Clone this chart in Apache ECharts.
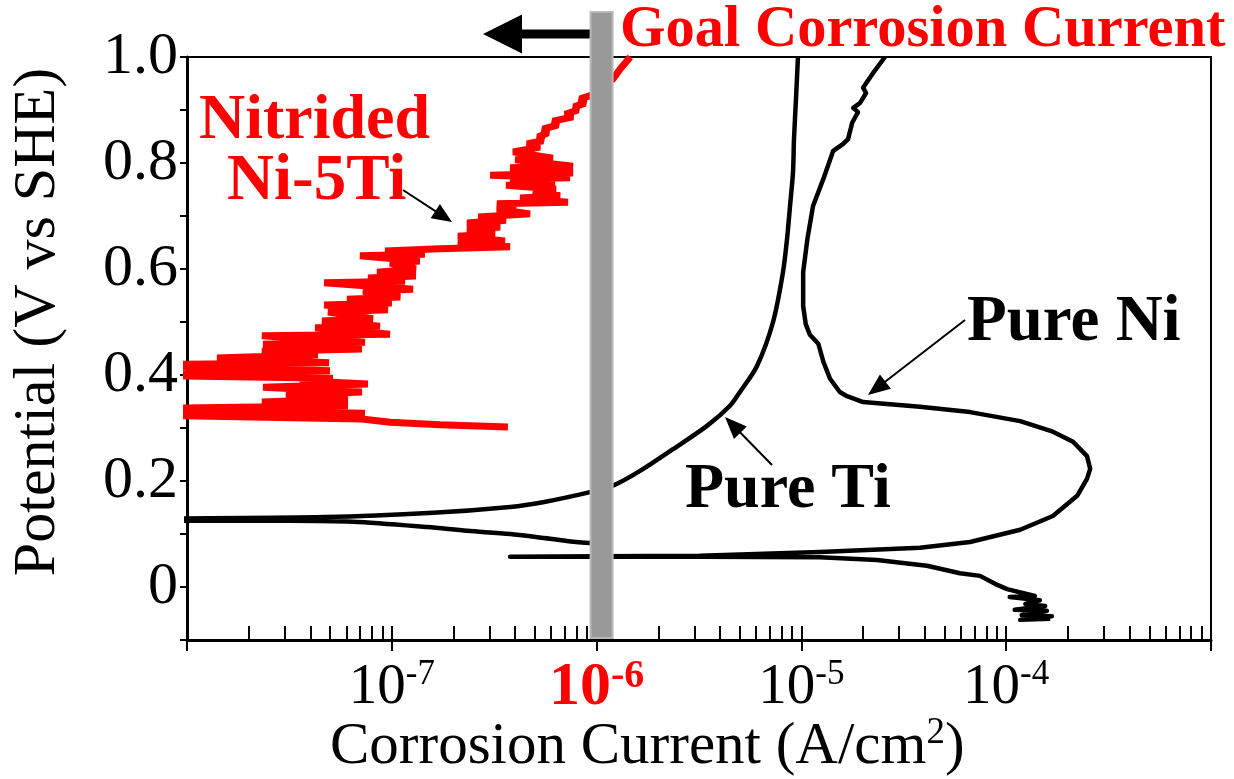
<!DOCTYPE html>
<html><head><meta charset="utf-8">
<script src="https://cdn.jsdelivr.net/npm/echarts@6/dist/echarts.min.js"></script>
<style>html,body{margin:0;padding:0;background:#fff}#c{width:1234px;height:779px}</style>
</head><body><div id="c"></div>
<script>
const FONT = '"Liberation Serif", "Times New Roman", serif';

// X axis: corrosion current (A/cm2), log scale; Y axis: potential (V vs SHE)
const xMin = 1e-8, xMax = 1e-3;
const yMin = -0.1, yMax = 1.0, yStep = 0.1;
const goalCurrent = 1e-6;

// Nitrided Ni-5Ti (red)
const redCurrent = [3.69e-7,1.72e-7,9.80e-8,7.15e-8,5e-9,7.40e-8,5e-9,6.11e-8,2.32e-8,6.11e-8,
  3.04e-8,7.15e-8,2.35e-8,7.65e-8,3.56e-8,5.16e-8,5e-9,4.99e-8,5e-9,4.94e-8,
  1.40e-8,4.36e-8,2.32e-8,7.15e-8,2.35e-8,7.40e-8,2.32e-8,9.80e-8,4.22e-8,8.76e-8,
  4.56e-8,8.09e-8,4.88e-8,9.58e-8,4.67e-8,1.00e-7,6.04e-8,1.10e-7,7.23e-8,1.27e-7,
  4.67e-8,1.16e-7,7.65e-8,1.31e-7,8.47e-8,1.31e-7,9.80e-8,1.37e-7,6.99e-8,1.45e-7,
  9.27e-8,1.72e-7,3.78e-7,2.10e-7,3.57e-7,2.10e-7,3.19e-7,2.33e-7,3.38e-7,2.33e-7,
  3.61e-7,2.64e-7,4.73e-7,3.26e-7,4.04e-7,3.26e-7,7.25e-7,4.23e-7,6.63e-7,4.89e-7,
  6.34e-7,3.61e-7,6.26e-7,3.78e-7,7.42e-7,3.02e-7,7.67e-7,3.78e-7,7.67e-7,4.00e-7,
  6.12e-7,3.91e-7,5.29e-7,4.57e-7,5.47e-7,5.18e-7,5.79e-7,5.47e-7,6.48e-7,6.12e-7,
  7.67e-7,7.01e-7,8.11e-7,7.76e-7,8.78e-7,8.30e-7,9.50e-7,9.82e-7,1.20e-6,1.30e-6,1.46e-6];
const redPotential = [0.302,0.306,0.311,0.317,0.325,0.328,0.336,0.342,0.349,0.355,
  0.362,0.368,0.377,0.383,0.389,0.394,0.400,0.408,0.419,0.423,
  0.432,0.438,0.445,0.449,0.458,0.462,0.474,0.477,0.489,0.492,
  0.502,0.506,0.519,0.523,0.532,0.536,0.543,0.547,0.558,0.562,
  0.574,0.577,0.583,0.587,0.594,0.600,0.611,0.615,0.625,0.628,
  0.634,0.638,0.642,0.649,0.653,0.662,0.666,0.674,0.679,0.687,
  0.692,0.698,0.704,0.713,0.719,0.723,0.726,0.734,0.738,0.747,
  0.751,0.758,0.762,0.770,0.772,0.777,0.781,0.791,0.794,0.806,
  0.809,0.821,0.830,0.836,0.842,0.849,0.857,0.864,0.872,0.879,
  0.887,0.892,0.900,0.906,0.913,0.921,0.928,0.938,0.958,0.977,1.0];

// Pure Ti
const tiCurrent = [1.20e-6,9.29e-7,5.92e-7,3.78e-7,2.33e-7,1.49e-7,6.46e-8,3.18e-8,3e-9,3e-9,
  4.72e-8,1.59e-7,3.78e-7,5.47e-7,9.29e-7,1.20e-6,1.63e-6,2.36e-6,3.46e-6,4.48e-6,
  5.01e-6,6.07e-6,7.27e-6,8.13e-6,8.51e-6,8.80e-6,9.10e-6,9.20e-6,9.41e-6,9.62e-6];
const tiPotential = [0.083,0.083,0.091,0.100,0.106,0.113,0.123,0.125,0.125,0.127,
  0.132,0.140,0.151,0.160,0.179,0.191,0.219,0.260,0.304,0.342,
  0.368,0.417,0.500,0.594,0.657,0.719,0.783,0.845,0.921,1.0];

// Pure Ni
const niCurrent = [1.64e-4,1.17e-4,1.67e-4,1.19e-4,1.58e-4,1.10e-4,1.55e-4,1.24e-4,1.46e-4,1.04e-4,
  1.38e-4,1.01e-4,8.82e-5,7.45e-5,5.95e-5,4.1e-5,2.34e-5,1.23e-5,3.2e-6,1.04e-6,
  3.78e-7,1.04e-6,3.2e-6,1.23e-5,3.79e-5,
  6.66e-5,1.17e-4,1.69e-4,2.22e-4,2.48e-4,2.57e-4,2.48e-4,2.12e-4,1.69e-4,1.17e-4,
  6.66e-5,3.79e-5,2.0e-5,1.67e-5,1.54e-5,1.38e-5,1.28e-5,1.21e-5,1.10e-5,1.05e-5,
  1.02e-5,1.02e-5,1.07e-5,1.14e-5,1.28e-5,1.43e-5,1.60e-5,1.69e-5,1.77e-5,1.89e-5,
  1.79e-5,1.93e-5,2.07e-5,2.0e-5,2.24e-5,2.56e-5];
const niPotential = [-0.060,-0.062,-0.055,-0.053,-0.045,-0.043,-0.036,-0.032,-0.025,-0.019,
  -0.017,-0.004,0.006,0.021,0.026,0.040,0.051,0.056,0.057,0.057,
  0.057,0.058,0.059,0.066,0.074,
  0.085,0.108,0.134,0.172,0.204,0.223,0.247,0.274,0.293,0.313,
  0.330,0.340,0.349,0.360,0.368,0.393,0.425,0.459,0.476,0.496,
  0.530,0.594,0.657,0.719,0.770,0.823,0.836,0.845,0.876,0.896,
  0.904,0.913,0.932,0.942,0.970,1.0];

const zip = (a, b) => a.map((v, i) => [v, b[i]]);

const chart = echarts.init(document.getElementById('c'), null, {renderer: 'canvas'});

const xLabelFmt = v => {
  const e = Math.round(Math.log10(v));
  if (e <= -8 || e >= -3) return '';
  if (e === -6) return '{rb|10}{rs|' + e + '}';
  return '{b|10}{s|' + e + '}';
};
const yLabelFmt = v => {
  const k = Math.round(v * 10);
  if (k < 0 || k % 2) return '';
  return k === 0 ? '0' : (k / 10).toFixed(1);
};

const option = {
  animation: false,
  backgroundColor: '#fff',
  grid: {left: 187, right: 23, top: 57, bottom: 139, show: true, borderColor: '#000', borderWidth: 2, backgroundColor: 'transparent'},
  xAxis: [{
    type: 'log', logBase: 10, min: xMin, max: xMax, position: 'bottom',
    axisLine: {show: true, onZero: false, lineStyle: {color: '#000', width: 3}},
    axisTick: {show: true, inside: false, length: 11, lineStyle: {color: '#000', width: 2}},
    minorTick: {show: false},
    splitLine: {show: false},
    axisLabel: {
      margin: 17, formatter: xLabelFmt,
      rich: {
        b: {fontFamily: FONT, fontSize: 57, color: '#000', lineHeight: 60, verticalAlign: 'bottom'},
        s: {fontFamily: FONT, fontSize: 35, color: '#000', lineHeight: 36, verticalAlign: 'top'},
        rb: {fontFamily: FONT, fontSize: 62, fontWeight: 'bold', color: '#ff0000', lineHeight: 62, verticalAlign: 'bottom'},
        rs: {fontFamily: FONT, fontSize: 40, fontWeight: 'bold', color: '#ff0000', lineHeight: 40, verticalAlign: 'top'}
      }
    }
  }, {
    type: 'log', logBase: 10, min: xMin, max: xMax, position: 'bottom',
    axisLine: {show: false, onZero: false},
    axisTick: {show: true, inside: true, length: 14, lineStyle: {color: '#000', width: 2}},
    minorTick: {show: true, splitNumber: 9, length: 14, lineStyle: {color: '#000', width: 2}},
    splitLine: {show: false},
    axisLabel: {show: false}
  }],
  yAxis: {
    type: 'value', min: yMin, max: yMax, interval: yStep,
    axisLine: {show: true, onZero: false, lineStyle: {color: '#000', width: 3}},
    axisTick: {show: true, inside: false, length: 7, lineStyle: {color: '#000', width: 2}},
    splitLine: {show: false},
    axisLabel: {margin: 9, formatter: yLabelFmt, fontFamily: FONT, fontSize: 60, color: '#000'}
  },
  series: [
    {type: 'line', name: 'Nitrided Ni-5Ti', data: zip(redCurrent, redPotential), showSymbol: false,
      lineStyle: {color: '#ff0000', width: 7, join: 'bevel', cap: 'butt'}, z: 3},
    {type: 'line', name: 'Pure Ti', data: zip(tiCurrent, tiPotential), showSymbol: false, smooth: 0.3,
      lineStyle: {color: '#000', width: 4.5, join: 'round'}, z: 4},
    {type: 'line', name: 'Pure Ni', data: zip(niCurrent, niPotential), showSymbol: false,
      lineStyle: {color: '#000', width: 4.5, join: 'round'}, z: 4}
  ]
};
chart.setOption(option);

function arrow(x1, y1, x2, y2, headLen, headW, lw) {
  const dx = x2 - x1, dy = y2 - y1, L = Math.hypot(dx, dy), ux = dx / L, uy = dy / L;
  const bx = x2 - ux * headLen, by = y2 - uy * headLen;
  const px = -uy * headW / 2, py = ux * headW / 2;
  return [
    {type: 'line', z: 100, shape: {x1: x1, y1: y1, x2: bx + ux * 2, y2: by + uy * 2}, style: {stroke: '#000', lineWidth: lw}},
    {type: 'polygon', z: 100, shape: {points: [[x2, y2], [bx + px, by + py], [bx - px, by - py]]}, style: {fill: '#000'}}
  ];
}
function label(text, x, y, size, color, bold) {
  return {type: 'text', z: 101, x: x, y: y, style: {text: text, fontFamily: FONT, fontSize: size,
    fontWeight: bold ? 'bold' : 'normal', fill: color, align: 'left', verticalAlign: 'middle'}};
}

const goalX = chart.convertToPixel({xAxisIndex: 0}, goalCurrent);
const axisBottom = chart.convertToPixel({yAxisIndex: 0}, yMin);

const elements = [].concat(
  arrow(606, 34, 483, 34, 39, 39, 9),
  [{type: 'rect', z: 102, shape: {x: goalX - 6, y: 12, width: 22, height: axisBottom - 2 - 12},
     style: {fill: '#999999', stroke: '#b8b8b8', lineWidth: 2}}],
  [label('Goal Corrosion Current', 620, 31, 58.5, '#ff0000', true),
   label('Nitrided', 199, 121, 64, '#ff0000', true),
   label('Ni-5Ti', 227, 182, 65, '#ff0000', true),
   label('Pure Ni', 967, 323, 65, '#000', true),
   label('Pure Ti', 685, 490, 64, '#000', true)],
  arrow(403, 190, 452, 222, 20, 17, 2),
  arrow(965, 320, 868, 395, 22, 18, 2),
  arrow(772, 465, 725, 417, 22, 18, 2),
  [{type: 'text', z: 101, x: 38, y: 322, rotation: Math.PI / 2,
     style: {text: 'Potential (V vs SHE)', fontFamily: FONT, fontSize: 60, fill: '#000', align: 'center', verticalAlign: 'middle'}},
   {type: 'text', z: 101, x: 330, y: 746,
     style: {text: '{a|Corrosion Current (A/cm}{s|2}{a|)}', align: 'left', verticalAlign: 'middle',
       rich: {a: {fontFamily: FONT, fontSize: 59, fill: '#000', lineHeight: 62, verticalAlign: 'bottom'},
              s: {fontFamily: FONT, fontSize: 37, fill: '#000', lineHeight: 36, verticalAlign: 'top'}}}}]
);
chart.setOption({graphic: {elements: elements}});
</script>
</body></html>
